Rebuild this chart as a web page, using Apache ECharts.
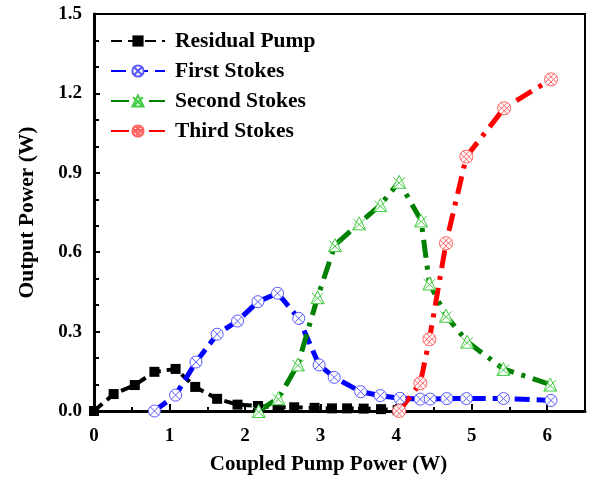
<!DOCTYPE html>
<html>
<head>
<meta charset="utf-8">
<script src="https://cdn.jsdelivr.net/npm/echarts@6/dist/echarts.min.js"></script>
<style>html,body{margin:0;padding:0;background:#fff}#c{width:590px;height:479px}</style>
</head>
<body>
<div id="c"></div>
<script>
const residualX = [0, 0.26, 0.54, 0.80, 1.08, 1.34, 1.63, 1.90, 2.17, 2.43, 2.65, 2.92, 3.15, 3.35, 3.57, 3.80, 4.02];
const residualY = [0, 0.064, 0.098, 0.148, 0.159, 0.091, 0.046, 0.024, 0.019, 0.014, 0.014, 0.012, 0.010, 0.010, 0.009, 0.007, 0.003];
const firstX = [0.80, 1.08, 1.35, 1.63, 1.90, 2.17, 2.43, 2.71, 2.98, 3.18, 3.53, 3.79, 4.05, 4.32, 4.45, 4.67, 4.93, 5.42, 6.05];
const firstY = [0.0, 0.06, 0.185, 0.29, 0.34, 0.413, 0.445, 0.35, 0.174, 0.127, 0.073, 0.058, 0.048, 0.045, 0.045, 0.047, 0.047, 0.047, 0.040];
const secondX = [2.18, 2.44, 2.70, 2.96, 3.19, 3.51, 3.79, 4.04, 4.33, 4.44, 4.66, 4.94, 5.42, 6.04];
const secondY = [0.0, 0.048, 0.176, 0.43, 0.627, 0.709, 0.778, 0.866, 0.72, 0.482, 0.36, 0.262, 0.159, 0.10];
const thirdX = [4.04, 4.32, 4.44, 4.66, 4.93, 5.43, 6.05];
const thirdY = [0.0, 0.105, 0.271, 0.634, 0.961, 1.144, 1.253];
const seriesNames = ['Residual Pump', 'First Stokes', 'Second Stokes', 'Third Stokes'];
const xTitle = 'Coupled Pump Power (W)';
const yTitle = 'Output Power (W)';

const zip = (xs, ys) => xs.map((x, i) => [x, ys[i]]);
const FONT = 'Liberation Serif';

const symCircleX = 'path://M10,1A9,9 0 1,1 9.99,1ZM3.64,3.64L16.36,16.36M16.36,3.64L3.64,16.36M1,10L1,10M19,10L19,10';
const symTriX = 'path://M10,1L19,19L1,19ZM2,4L18,19M18,4L2,19';
const symCircleHatch = 'path://M10,1A9,9 0 1,1 9.99,1ZM1.6,5.1L14.9,18.4M5.1,1.6L18.4,14.9M1.6,14.9L14.9,1.6M5.1,18.4L18.4,5.1M1,10L1,10M19,10L19,10';

const chart = echarts.init(document.getElementById('c'));
chart.setOption({
  animation: false,
  backgroundColor: '#fff',
  grid: { left: 94, top: 14, right: 5, bottom: 68, show: true, borderColor: '#000', borderWidth: 2, outerBoundsMode: 'none', containLabel: false },
  legend: {
    orient: 'vertical', left: 105, top: 25,
    itemWidth: 54, itemHeight: 14, itemGap: 8,
    textStyle: { fontFamily: FONT, fontWeight: 'bold', fontSize: 21.5, color: '#000', padding: [0, 0, 0, 5] },
    data: seriesNames
  },
  xAxis: {
    type: 'value', min: 0, max: 6.5, interval: 1,
    name: xTitle, nameLocation: 'middle', nameGap: 43,
    nameTextStyle: { fontFamily: FONT, fontWeight: 'bold', fontSize: 21, color: '#000', padding: [0, 22, 0, 0] },
    axisLine: { lineStyle: { color: '#000', width: 3 } },
    axisTick: { inside: true, length: 7, lineStyle: { color: '#000', width: 2 } },
    minorTick: { show: true, splitNumber: 2, length: 4, lineStyle: { color: '#000', width: 2 } },
    axisLabel: { fontFamily: FONT, fontWeight: 'bold', fontSize: 19, color: '#000', margin: 16, showMaxLabel: false,
      formatter: v => (Math.abs(v - Math.round(v)) < 1e-9 ? String(Math.round(v)) : '') },
    splitLine: { show: false }
  },
  yAxis: {
    type: 'value', min: 0, max: 1.5, interval: 0.3,
    name: yTitle, nameLocation: 'middle', nameGap: 56,
    nameTextStyle: { fontFamily: FONT, fontWeight: 'bold', fontSize: 21.5, color: '#000' },
    axisLine: { lineStyle: { color: '#000', width: 3 } },
    axisTick: { inside: true, length: 6, lineStyle: { color: '#000', width: 2 } },
    minorTick: { show: true, splitNumber: 3, length: 5, lineStyle: { color: '#000', width: 2 } },
    axisLabel: { fontFamily: FONT, fontWeight: 'bold', fontSize: 19, color: '#000', margin: 12, formatter: v => v.toFixed(1) },
    splitLine: { show: false }
  },
  series: [
    {
      name: seriesNames[0], type: 'line', data: zip(residualX, residualY),
      symbol: 'rect', symbolSize: 10,
      itemStyle: { color: '#000' },
      lineStyle: { color: '#000', width: 4, type: [11, 6] }
    },
    {
      name: seriesNames[1], type: 'line', data: zip(firstX, firstY),
      symbol: symCircleX, symbolSize: 12, symbolKeepAspect: true,
      itemStyle: { color: '#fff', borderColor: '#5a5aff', borderWidth: 1 },
      lineStyle: { color: '#0000ff', width: 5, type: [15, 7] }
    },
    {
      name: seriesNames[2], type: 'line', data: zip(secondX, secondY),
      symbol: symTriX, symbolSize: 13, symbolKeepAspect: true,
      itemStyle: { color: '#fff', borderColor: '#44cc44', borderWidth: 1 },
      lineStyle: { color: '#008000', width: 5, type: [18, 8, 4, 8] }
    },
    {
      name: seriesNames[3], type: 'line', data: zip(thirdX, thirdY),
      symbol: symCircleHatch, symbolSize: 13, symbolKeepAspect: true,
      itemStyle: { color: '#fff', borderColor: '#ff6060', borderWidth: 1 },
      lineStyle: { color: '#ff0000', width: 5, type: [18, 8, 4, 8] }
    }
  ]
});
</script>
</body>
</html>
